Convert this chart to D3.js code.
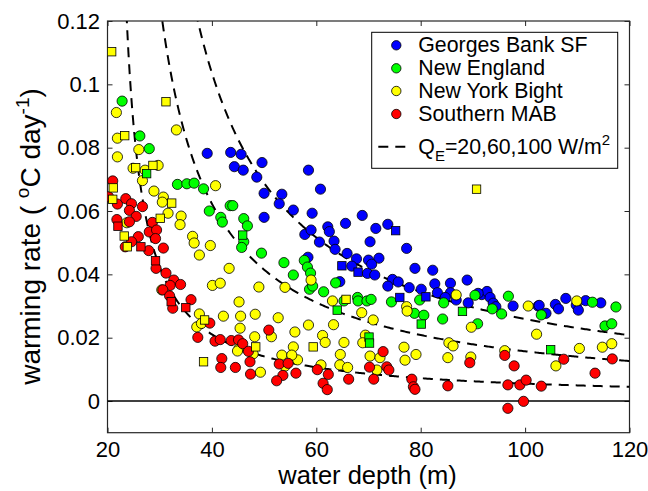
<!DOCTYPE html>
<html>
<head>
<meta charset="utf-8">
<script src="https://cdn.jsdelivr.net/npm/d3@7"></script>
<style>
  body { margin: 0; background: #fff; }
  svg { display: block; font-family: "Liberation Sans", Arial, Helvetica, sans-serif; }
</style>
</head>
<body>
<div id="chart"></div>
<script>
// axis ticks
var depthTicks = [20, 40, 60, 80, 100, 120];
var rateTicks = [0, 0.02, 0.04, 0.06, 0.08, 0.1, 0.12];

// series names + colours (legend order)
var seriesNames = ["Georges Bank SF", "New England", "New York Bight", "Southern MAB"];
var seriesColors = ["#0000ff", "#00ff00", "#ffff00", "#ff0000"];

// heat flux values for the dashed curves (W/m2)
var fluxes = [20, 60, 100];

// [depth (m), warming rate (degC/day)]
var georgesCircles = [[39.1,.0782],[43.6,.0785],[45.6,.0779],[44.3,.0740],[46.0,.0729],[49.6,.0753],[48.6,.0707],[50.0,.0656],[53.4,.0653],[52.9,.0623],[55.6,.0603],[59.2,.0593],[58.5,.0729],[60.8,.0669],[50.0,.0580],[57.8,.0526],[59.0,.0540],[60.6,.0502],[62.2,.0550],[65.6,.0561],[68.8,.0586],[71.4,.0545],[62.5,.0535],[63.4,.0505],[63.6,.0479],[70.3,.0503],[65.9,.0466],[67.7,.0449],[70.0,.0445],[72.0,.0451],[58.4,.0454],[66.8,.0426],[69.8,.0403],[70.6,.0432],[73.7,.0558],[77.3,.0482],[78.9,.0419],[82.3,.0413],[71.2,.0398],[74.6,.0384],[75.7,.0376],[73.7,.0363],[77.8,.0358],[80.1,.0353],[82.7,.0370],[85.7,.0372],[88.9,.0382],[83.2,.0342],[85.7,.0342],[91.7,.0336],[92.7,.0346],[93.3,.0327],[84.7,.0327],[86.8,.0319],[89.1,.0310],[91.0,.0340],[93.9,.0309],[94.4,.0298],[102.5,.0300],[104.0,.0277],[105.8,.0305],[106.4,.0291],[107.8,.0324],[109.8,.0303],[110.2,.0287],[111.6,.0317],[114.5,.0310],[97.7,.0300],[102.7,.0302],[64.5,.0377]];
var georgesSquares = [[64.9,.0427],[68.0,.0407],[75.2,.0538],[81.0,.0329],[76.0,.0327]];

var englandCircles = [[22.8,.0947],[26.2,.0837],[28.0,.0797],[33.4,.0684],[35.2,.0686],[36.6,.0688],[38.4,.0670],[39.5,.0600],[43.5,.0617],[44.0,.0617],[41.7,.0580],[42.0,.0565],[46.1,.0576],[46.8,.0553],[46.1,.0503],[45.7,.0485],[49.5,.0467],[53.8,.0437],[55.6,.0398],[57.7,.0444],[58.3,.0423],[58.9,.0404],[58.7,.0353],[59.3,.0363],[61.4,.0345],[63.7,.0373],[65.3,.0316],[67.9,.0327],[68.0,.0316],[69.7,.0316],[70.5,.0321],[74.4,.0313],[78.8,.0277],[79.8,.0319],[80.6,.0271],[84.2,.0259],[84.4,.0310],[90.4,.0334],[90.9,.0244],[93.7,.0291],[95.5,.0275],[96.8,.0331],[103.1,.0272],[112.9,.0312],[117.4,.0297],[115.3,.0237],[116.6,.0244]];
var englandSquares = [[27.5,.0718],[45.9,.0524],[64.0,.0287],[70.1,.0202],[70.2,.0183],[80.1,.0243],[88.0,.0283],[104.9,.0162]];

var nyBightCircles = [[21.7,.0911],[21.9,.0830],[21.9,.0771],[26.0,.0794],[24.9,.0735],[27.2,.0729],[26.7,.0696],[29.7,.0744],[28.9,.0663],[30.7,.0644],[30.5,.0628],[31.6,.0593],[34.1,.0584],[33.9,.0557],[33.2,.0856],[40.7,.0680],[23.7,.0563],[36.3,.0520],[36.6,.0499],[39.7,.0491],[37.6,.0461],[43.3,.0419],[40.1,.0365],[41.6,.0372],[49.0,.0360],[45.2,.0313],[37.6,.0275],[37.1,.0234],[38.0,.0245],[42.2,.0268],[45.5,.0268],[48.3,.0274],[52.7,.0263],[55.9,.0218],[58.5,.0240],[45.4,.0230],[48.2,.0203],[51.4,.0203],[45.2,.0166],[44.9,.0158],[53.4,.0145],[55.6,.0171],[56.4,.0130],[54.0,.0110],[49.3,.0091],[61.2,.0207],[61.7,.0185],[60.9,.0114],[30.4,.0351],[54.0,.0359],[59.0,.0382],[63.1,.0316],[63.3,.0241],[65.3,.0185],[64.6,.0147],[64.5,.0114],[66.0,.0106],[68.7,.0279],[70.9,.0256],[69.4,.0208],[68.9,.0184],[70.3,.0142],[72.2,.0137],[71.6,.0098],[76.8,.0170],[77.0,.0129],[79.1,.0147],[77.3,.0298],[77.4,.0284],[86.8,.0335],[85.4,.0184],[86.2,.0174],[85.2,.0137],[89.7,.0233],[89.6,.0139],[96.1,.0159],[100.6,.0300],[102.2,.0211],[105.9,.0111],[109.9,.0316],[110.4,.0166],[114.8,.0170],[116.6,.0181],[47.9,.0149],[55.3,.0145]];
var nyBightSquares = [[20.8,.1103],[23.3,.0838],[25.4,.0737],[28.7,.0744],[32.3,.0625],[30.1,.0577],[31.2,.0945],[21.1,.0673],[21.0,.0637],[23.2,.0521],[23.8,.0487],[38.6,.0256],[48.4,.0171],[59.4,.0171],[38.4,.0124],[65.7,.0321],[90.7,.0669]];

var southCircles = [[21.0,.0695],[20.2,.0645],[21.9,.0622],[23.5,.0639],[24.6,.0623],[24.2,.0602],[25.5,.0583],[26.7,.0614],[21.8,.0573],[24.2,.0566],[28.6,.0564],[28.0,.0534],[29.4,.0540],[29.2,.0513],[25.9,.0519],[24.6,.0503],[23.4,.0487],[27.9,.0475],[30.7,.0483],[29.3,.0419],[31.2,.0404],[32.7,.0382],[34.0,.0368],[32.0,.0365],[30.6,.0351],[31.9,.0332],[32.5,.0293],[36.0,.0320],[39.6,.0246],[37.3,.0201],[40.6,.0189],[41.6,.0194],[43.7,.0191],[45.1,.0193],[45.9,.0181],[47.0,.0157],[47.3,.0124],[41.9,.0134],[41.7,.0106],[44.5,.0106],[47.4,.0085],[50.9,.0224],[52.9,.0117],[54.6,.0119],[53.6,.0081],[52.4,.0064],[56.1,.0088],[60.2,.0099],[62.3,.0084],[61.3,.0056],[62.1,.0036],[66.2,.0069],[70.2,.0107],[71.0,.0069],[72.8,.0156],[73.5,.0108],[73.9,.0098],[78.3,.0069],[78.6,.0045],[78.9,.0037],[85.2,.0048],[89.4,.0121],[96.1,.0144],[97.9,.0111],[96.7,.0051],[99.0,.0051],[100.2,.0066],[103.1,.0047],[99.7,-.0001],[96.7,-.0023],[107.4,.0132],[113.4,.0088],[116.7,.0133]];
var southSquares = [[22.0,.0552],[26.4,.0487],[29.2,.0443],[32.2,.0314],[35.0,.0295]];

var circleSets = [georgesCircles, englandCircles, nyBightCircles, southCircles];
var squareSets = [georgesSquares, englandSquares, nyBightSquares, southSquares];

// rate = K*Q/(h - H0) + C0, as the dashed curves are drawn
var K = 0.02033, H0 = 20.3, C0 = 0.0004;

var width = 648, height = 491;
var box = {left: 107.5, right: 629.5, top: 21, bottom: 432.7};

var svg = d3.select("#chart").append("svg")
  .attr("width", width)
  .attr("height", height);

var x = d3.scaleLinear().domain([20, 120]).range([box.left, box.right]);
var y = d3.scaleLinear().domain([-0.01, 0.12]).range([box.bottom, box.top]);

svg.append("defs").append("clipPath").attr("id", "plotclip")
  .append("rect")
  .attr("x", box.left).attr("y", box.top)
  .attr("width", box.right - box.left).attr("height", box.bottom - box.top);

var fmt = function(d) { return d === 0 ? "0" : String(+d.toFixed(2)); };

// axes, ticks pointing inwards like matlab
var axisStyle = function(g) {
  g.select(".domain").remove();
  g.selectAll(".tick line").attr("stroke", "#262626");
  g.selectAll("text").attr("fill", "#000").style("font-size", "22px");
};

svg.append("g").attr("transform", "translate(0," + box.bottom + ")")
  .call(d3.axisBottom(x).tickValues(depthTicks).tickSizeInner(-5).tickSizeOuter(0).tickPadding(9))
  .call(axisStyle);
svg.append("g").attr("transform", "translate(0," + box.top + ")")
  .call(d3.axisTop(x).tickValues(depthTicks).tickSizeInner(-5).tickSizeOuter(0).tickFormat(""))
  .call(axisStyle);
svg.append("g").attr("transform", "translate(" + box.left + ",0)")
  .call(d3.axisLeft(y).tickValues(rateTicks).tickSizeInner(-5).tickSizeOuter(0).tickPadding(7.5).tickFormat(fmt))
  .call(axisStyle);
svg.append("g").attr("transform", "translate(" + box.right + ",0)")
  .call(d3.axisRight(y).tickValues(rateTicks).tickSizeInner(-5).tickSizeOuter(0).tickFormat(""))
  .call(axisStyle);

svg.append("rect")
  .attr("x", box.left).attr("y", box.top)
  .attr("width", box.right - box.left).attr("height", box.bottom - box.top)
  .attr("fill", "none").attr("stroke", "#262626").attr("stroke-width", 1.2);

// zero line
svg.append("line")
  .attr("x1", x(20)).attr("x2", x(120))
  .attr("y1", y(0)).attr("y2", y(0))
  .attr("stroke", "#000").attr("stroke-width", 1.5);

// dashed Q_E curves
var line = d3.line().x(function(d) { return x(d[0]); }).y(function(d) { return y(d[1]); });
var curves = svg.append("g").attr("clip-path", "url(#plotclip)");
fluxes.forEach(function(q) {
  var pts = [];
  for (var h = 20.5; h <= 120.001; h += 0.25) {
    pts.push([h, K * q / (h - H0) + C0]);
  }
  curves.append("path")
    .attr("d", line(pts))
    .attr("fill", "none")
    .attr("stroke", "#000")
    .attr("stroke-width", 2)
    .attr("stroke-dasharray", "10,7");
});

// markers: circles first then squares on top
var marks = svg.append("g").attr("clip-path", "url(#plotclip)");
circleSets.forEach(function(set, i) {
  marks.append("g").selectAll("circle")
    .data(set)
    .enter().append("circle")
    .attr("cx", function(d) { return x(d[0]); })
    .attr("cy", function(d) { return y(d[1]); })
    .attr("r", 5.1)
    .attr("fill", seriesColors[i])
    .attr("stroke", "#000")
    .attr("stroke-width", 0.8);
});
var sq = 8.4;
squareSets.forEach(function(set, i) {
  marks.append("g").selectAll("rect")
    .data(set)
    .enter().append("rect")
    .attr("x", function(d) { return x(d[0]) - sq / 2; })
    .attr("y", function(d) { return y(d[1]) - sq / 2; })
    .attr("width", sq).attr("height", sq)
    .attr("fill", seriesColors[i])
    .attr("stroke", "#000")
    .attr("stroke-width", 0.8);
});

// axis labels
svg.append("text")
  .attr("x", (box.left + box.right) / 2 - 1).attr("y", 484)
  .attr("text-anchor", "middle")
  .style("font-size", "25.5px")
  .text("water depth (m)");

var ylab = svg.append("text")
  .attr("transform", "translate(39.5,236.5) rotate(-90)")
  .attr("text-anchor", "middle")
  .style("font-size", "28px");
ylab.append("tspan").text("warming rate ( ");
ylab.append("tspan").attr("dy", -11).style("font-size", "19px").text("o");
ylab.append("tspan").attr("dy", 11).text("C day");
ylab.append("tspan").attr("dy", -11).style("font-size", "19px").text("-1");
ylab.append("tspan").attr("dy", 11).text(")");

// legend
var legend = svg.append("g");
legend.append("rect")
  .attr("x", 371.7).attr("y", 32.3)
  .attr("width", 246).attr("height", 136)
  .attr("fill", "#fff").attr("stroke", "#000").attr("stroke-width", 1);

var rowY = [45.3, 68.3, 91, 114];
seriesNames.forEach(function(name, i) {
  legend.append("circle")
    .attr("cx", 396.3).attr("cy", rowY[i]).attr("r", 4.7)
    .attr("fill", seriesColors[i]).attr("stroke", "#000").attr("stroke-width", 0.8);
  legend.append("text")
    .attr("x", 418.3).attr("y", rowY[i])
    .attr("dominant-baseline", "central")
    .style("font-size", "21.3px")
    .text(name);
});

legend.append("line")
  .attr("x1", 378.3).attr("x2", 408.3)
  .attr("y1", 146.7).attr("y2", 146.7)
  .attr("stroke", "#000").attr("stroke-width", 2)
  .attr("stroke-dasharray", "10,7");
var qlab = legend.append("text")
  .attr("x", 418.3).attr("y", 154)
  .style("font-size", "21.3px");
qlab.append("tspan").text("Q");
qlab.append("tspan").attr("dy", 7).style("font-size", "15px").text("E");
qlab.append("tspan").attr("dy", -7).text("=20,60,100 W/m");
qlab.append("tspan").attr("dy", -9).style("font-size", "15px").text("2");
</script>
</body>
</html>
